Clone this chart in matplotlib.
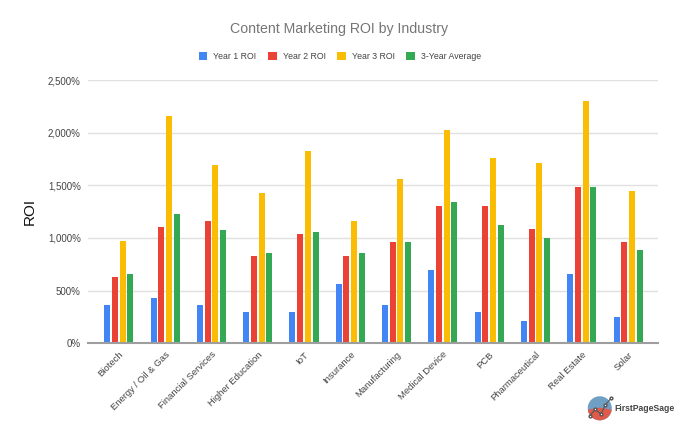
import numpy as np
import matplotlib
matplotlib.use("Agg")
import matplotlib.pyplot as plt
from matplotlib.patches import Circle, Wedge
from matplotlib.ticker import FuncFormatter

# ---------------------------
# Data
# ---------------------------
industries = ["Biotech", "Energy / Oil & Gas", "Financial Services", "Higher Education",
              "IoT", "Insurance", "Manufacturing", "Medical Device", "PCB",
              "Pharmaceutical", "Real Estate", "Solar"]
year1 = [360, 430, 360, 295, 295, 560, 360, 695, 295, 210, 655, 250]
year2 = [630, 1100, 1165, 830, 1035, 830, 965, 1300, 1300, 1085, 1485, 960]
year3 = [970, 2160, 1695, 1430, 1830, 1165, 1560, 2030, 1760, 1710, 2305, 1445]
avg3 = [655, 1230, 1075, 855, 1055, 855, 965, 1340, 1120, 1000, 1485, 885]

series_names = ["Year 1 ROI", "Year 2 ROI", "Year 3 ROI", "3-Year Average"]
colors = ["#4285F4", "#EA4335", "#FBBC04", "#34A853"]

plt.rcParams["font.family"] = ["Liberation Sans", "DejaVu Sans"]

fig = plt.figure(figsize=(6.8, 4.22), dpi=100)
ax = fig.add_axes([0.129, 0.187, 0.839, 0.623])

x = np.arange(len(industries))
step = 0.166
width = 0.13
for i, (vals, name, c) in enumerate(zip([year1, year2, year3, avg3], series_names, colors)):
    ax.bar(x + (i - 1.5) * step, vals, width=width, color=c, label=name, zorder=3)

ax.set_xlim(-0.67, len(industries) - 0.35)
ax.set_ylim(0, 2500)
ax.set_yticks(range(0, 2501, 500))
ax.yaxis.set_major_formatter(FuncFormatter(lambda v, p: f"{int(v):,}%"))
ax.grid(axis="y", color="#e0e0e0", linewidth=1, zorder=0)
for s in ["top", "right", "left"]:
    ax.spines[s].set_visible(False)
ax.spines["bottom"].set_color("#9e9e9e")
ax.spines["bottom"].set_linewidth(1.5)
ax.spines["bottom"].set_zorder(4)
ax.tick_params(axis="both", length=0, labelsize=7, labelcolor="#444444")
ax.tick_params(axis="y", pad=5)
ax.set_xticks(x)
ax.set_xticklabels(industries, rotation=45, ha="right", rotation_mode="anchor", fontsize=6.8)
ax.tick_params(axis="x", pad=5)
ax.set_ylabel("ROI", fontsize=11, color="#111111", labelpad=8)

fig.text(0.499, 0.932, "Content Marketing ROI by Industry", ha="center", va="center",
         fontsize=10.2, color="#757575")
fig.legend(loc="center", bbox_to_anchor=(0.50, 0.867), ncol=4, frameon=False,
           fontsize=6.3, handlelength=1.0, handleheight=1.0, handletextpad=0.7,
           columnspacing=1.3, labelcolor="#444444")

# logo
lax = fig.add_axes([0.862, 0.0, 0.04, 0.065])
lax.set_xlim(-1.2, 1.2)
lax.set_ylim(-1.2, 1.2)
lax.set_aspect("equal")
lax.axis("off")
lax.add_patch(Circle((0, 0), 1.0, color="#6f9fc4"))
lax.add_patch(Wedge((0, 0), 1.0, 190, 350, color="#e05a4b"))
lax.plot([-0.9, -0.4, 0.1, 0.5, 1.0], [-0.7, -0.1, -0.5, 0.3, 0.9], color="#555555",
         marker="o", markersize=2, mfc="white", linewidth=0.8)
fig.text(0.903, 0.033, "FirstPageSage", fontsize=6.2, color="#444444",
         fontweight="bold", va="center", ha="left")

fig.savefig("out.png", dpi=100)
